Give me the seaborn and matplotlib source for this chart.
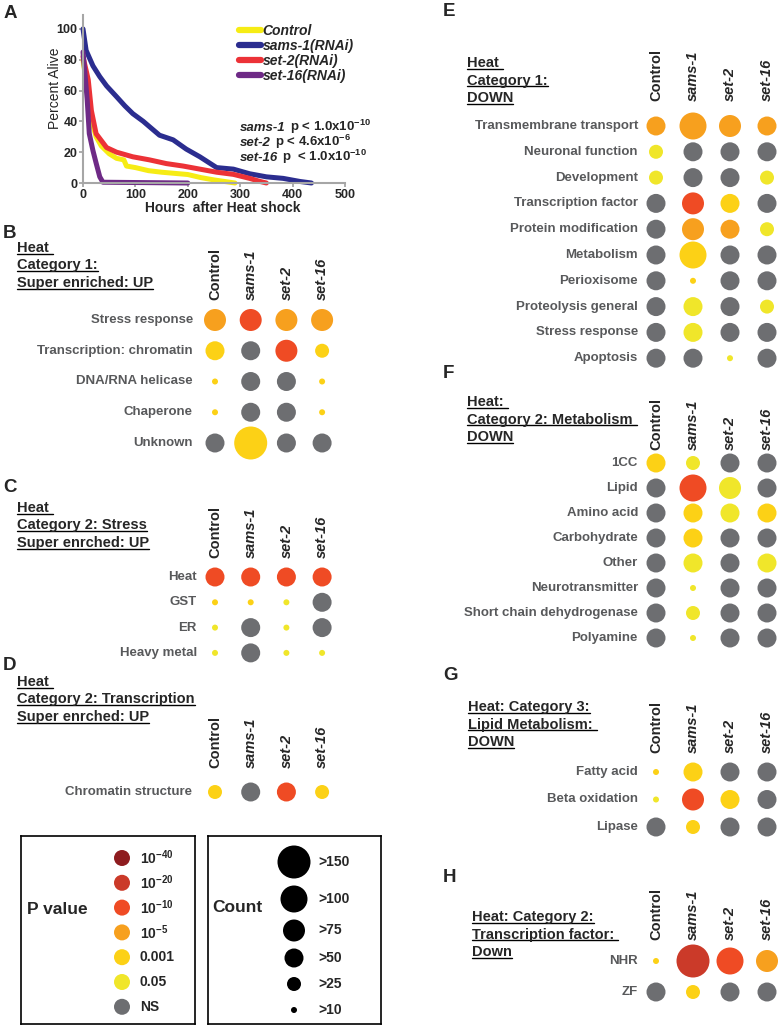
import numpy as np
import pandas as pd
import seaborn as sns
import matplotlib

matplotlib.use("Agg")
import matplotlib.pyplot as plt
import matplotlib.transforms as mtransforms
from matplotlib.lines import Line2D
from matplotlib.font_manager import FontProperties

# ---------------------------------------------------------------- data
# Panel A: survival after heat shock
CTRL_H = [0, 5, 10, 15, 20, 25, 35, 50, 64, 78, 83, 100, 125, 150, 200, 225, 250, 290]
CTRL_A = [80, 68, 55, 44, 36, 30, 24, 19, 16, 15, 11, 10, 8, 7, 5.5, 3.5, 2, 0]
SAMS_H = [0, 6, 19, 32, 45, 64, 80, 95, 115, 127, 146, 172, 197, 223, 255, 287, 318, 350, 382, 414, 436]
SAMS_A = [100, 86, 76, 69, 63, 56, 50, 45, 40, 36.5, 31, 28, 22, 17, 10, 9, 6, 4, 3, 1, 0]
SET2_H = [0, 10, 16, 25, 45, 64, 95, 127, 159, 191, 223, 255, 287, 318, 338, 350]
SET2_A = [82, 67, 47, 32, 23, 20, 17, 15, 12.6, 11, 9, 7, 5.6, 3, 1, 0]
SET16_H = [0, 4, 8, 12, 19, 25, 32, 38, 200]
SET16_A = [85, 70, 54, 32, 21, 13, 4, 0.5, 0]

STRAINS = ["Control", "sams-1(RNAi)", "set-2(RNAi)", "set-16(RNAi)"]
STRAIN_COLORS = ["#f6ec14", "#2b2d8f", "#ec3237", "#6e2a86"]
PVALS_A = [("sams-1", "p < 1.0x10$^{-10}$"),
           ("set-2", "p < 4.6x10$^{-6}$"),
           ("set-16", "p  < 1.0x10$^{-10}$")]

CONDITIONS = ["Control", "sams-1", "set-2", "set-16"]

# P value classes and dot-size (count) classes
P_LEVELS = ["1e-40", "1e-20", "1e-10", "1e-5", "0.001", "0.05", "NS"]
P_LABELS = ["10$^{-40}$", "10$^{-20}$", "10$^{-10}$", "10$^{-5}$", "0.001", "0.05", "NS"]
P_COLORS = ["#8e1c1f", "#cb3a29", "#ef4b24", "#f7a01e", "#fcd116", "#f0e62a", "#6d6e71"]
COUNT_LEVELS = [">150", ">100", ">75", ">50", ">25", ">10"]

B_TERMS = ["Stress response", "Transcription: chromatin", "DNA/RNA helicase", "Chaperone", "Unknown"]
B_P = [["1e-5", "1e-10", "1e-5", "1e-5"],
       ["0.001", "NS", "1e-10", "0.001"],
       ["0.001", "NS", "NS", "0.001"],
       ["0.001", "NS", "NS", "0.001"],
       ["NS", "0.001", "NS", "NS"]]
B_N = [[">75", ">75", ">75", ">75"],
       [">50", "-", ">75", ">25"],
       [">10", "-", "-", ">10"],
       [">10", "-", "-", ">10"],
       ["-", ">150", "-", "-"]]

C_TERMS = ["Heat", "GST", "ER", "Heavy metal"]
C_P = [["1e-10", "1e-10", "1e-10", "1e-10"],
       ["0.001", "0.001", "0.05", "NS"],
       ["0.05", "NS", "0.05", "NS"],
       ["0.05", "NS", "0.05", "0.05"]]
C_N = [[">50", ">50", ">50", ">50"],
       [">10", ">10", ">10", "-"],
       [">10", "-", ">10", "-"],
       [">10", "-", ">10", ">10"]]

D_TERMS = ["Chromatin structure"]
D_P = [["0.001", "NS", "1e-10", "0.001"]]
D_N = [[">25", "-", ">50", ">25"]]

E_TERMS = ["Transmembrane transport", "Neuronal function", "Development", "Transcription factor",
           "Protein modification", "Metabolism", "Perioxisome", "Proteolysis general",
           "Stress response", "Apoptosis"]
E_P = [["1e-5", "1e-5", "1e-5", "1e-5"],
       ["0.05", "NS", "NS", "NS"],
       ["0.05", "NS", "NS", "0.05"],
       ["NS", "1e-10", "0.001", "NS"],
       ["NS", "1e-5", "1e-5", "0.05"],
       ["NS", "0.001", "NS", "NS"],
       ["NS", "0.001", "NS", "NS"],
       ["NS", "0.05", "NS", "0.05"],
       ["NS", "0.05", "NS", "NS"],
       ["NS", "NS", "0.05", "NS"]]
E_N = [[">50", ">100", ">75", ">50"],
       [">25", "-", "-", "-"],
       [">25", "-", "-", ">25"],
       ["-", ">75", ">50", "-"],
       ["-", ">75", ">50", ">25"],
       ["-", ">100", "-", "-"],
       ["-", ">10", "-", "-"],
       ["-", ">50", "-", ">25"],
       ["-", ">50", "-", "-"],
       ["-", "-", ">10", "-"]]

F_TERMS = ["1CC", "Lipid", "Amino acid", "Carbohydrate", "Other", "Neurotransmitter",
           "Short chain dehydrogenase", "Polyamine"]
F_P = [["0.001", "0.05", "NS", "NS"],
       ["NS", "1e-10", "0.05", "NS"],
       ["NS", "0.001", "0.05", "0.001"],
       ["NS", "0.001", "NS", "NS"],
       ["NS", "0.05", "NS", "0.05"],
       ["NS", "0.05", "NS", "NS"],
       ["NS", "0.05", "NS", "NS"],
       ["NS", "0.05", "NS", "NS"]]
F_N = [[">50", ">25", "-", "-"],
       ["-", ">100", ">75", "-"],
       ["-", ">50", ">50", ">50"],
       ["-", ">50", "-", "-"],
       ["-", ">50", "-", ">50"],
       ["-", ">10", "-", "-"],
       ["-", ">25", "-", "-"],
       ["-", ">10", "-", "-"]]

G_TERMS = ["Fatty acid", "Beta oxidation", "Lipase"]
G_P = [["0.001", "0.001", "NS", "NS"],
       ["0.05", "1e-10", "0.001", "NS"],
       ["NS", "0.001", "NS", "NS"]]
G_N = [[">10", ">50", "-", "-"],
       [">10", ">75", ">50", "-"],
       ["-", ">25", "-", "-"]]

H_TERMS = ["NHR", "ZF"]
H_P = [["0.001", "1e-20", "1e-10", "1e-5"],
       ["NS", "0.001", "NS", "NS"]]
H_N = [[">10", ">150", ">100", ">75"],
       ["-", ">25", "-", "-"]]

# ---------------------------------------------------------------- style
W, H = 779, 1026
DIAM = {">150": 33, ">100": 27, ">75": 22, ">50": 19, ">25": 14, ">10": 6, "-": 19}
AREAS = {k: (v * 0.72) ** 2 for k, v in DIAM.items()}
PALETTE = dict(zip(P_LEVELS, P_COLORS))
LABEL_GREY = "#58595b"

sns.set_style("ticks")
plt.rcParams["font.family"] = ["Liberation Sans", "DejaVu Sans"]
plt.rcParams["mathtext.fontset"] = "custom"
plt.rcParams["mathtext.rm"] = "Liberation Sans:bold"
plt.rcParams["mathtext.bf"] = "Liberation Sans:bold"
plt.rcParams["mathtext.it"] = "Liberation Sans:italic:bold"
plt.rcParams["mathtext.default"] = "bf"

fig = plt.figure(figsize=(W / 100, H / 100), dpi=100)
renderer = fig.canvas.get_renderer()
title_texts = []


def fx(x):
    return x / W


def fy(y):
    return 1 - y / H


def add_title(x, y0, lines, step=17.5):
    for i, line in enumerate(lines):
        t = fig.text(fx(x), fy(y0 + i * step), line, ha="left", va="center",
                     fontsize=10.5, fontweight="bold")
        title_texts.append(t)


def dot_panel(terms, pvals, counts, x0, dx, y0, dy, label_off, head_off):
    n = len(terms)
    rows = []
    for i in range(n):
        for j in range(len(CONDITIONS)):
            rows.append({"cond": j, "term": i, "p": pvals[i][j], "n": counts[i][j]})
    df = pd.DataFrame(rows)

    left = x0 - dx / 2
    top = y0 - dy / 2
    ax = fig.add_axes([fx(left), fy(top + n * dy), 4 * dx / W, n * dy / H])
    sns.scatterplot(data=df, x="cond", y="term", hue="p", size="n",
                    palette=PALETTE, sizes=AREAS, legend=False,
                    linewidth=0, ax=ax)
    for c in ax.collections:
        c.set_clip_on(False)
    ax.set_xlim(-0.5, 3.5)
    ax.set_ylim(n - 0.5, -0.5)
    ax.set_axis_off()

    lab_tr = mtransforms.offset_copy(ax.transData, fig=fig, x=-label_off, y=0, units="dots")
    for i, term in enumerate(terms):
        ax.text(0, i, term, transform=lab_tr, ha="right", va="center",
                fontsize=9.5, fontweight="bold", color=LABEL_GREY)
    head_tr = mtransforms.offset_copy(ax.transData, fig=fig, x=0, y=head_off, units="dots")
    for j, cond in enumerate(CONDITIONS):
        ax.text(j, 0, cond, transform=head_tr, rotation=90, ha="center", va="bottom",
                fontsize=10.5, fontweight="bold",
                style="normal" if j == 0 else "italic")
    return ax


# ---------------------------------------------------------------- panel A
frames = []
for name, hrs, alive in zip(STRAINS, [CTRL_H, SAMS_H, SET2_H, SET16_H],
                            [CTRL_A, SAMS_A, SET2_A, SET16_A]):
    frames.append(pd.DataFrame({"hours": hrs, "alive": alive, "strain": name}))
df_a = pd.concat(frames, ignore_index=True)

ax_a = fig.add_axes([fx(83), fy(183), 262 / W, 168 / H])
sns.lineplot(data=df_a, x="hours", y="alive", hue="strain", hue_order=STRAINS,
             palette=STRAIN_COLORS, estimator=None, sort=False, linewidth=3.6,
             legend=False, ax=ax_a)
for ln in ax_a.lines:
    ln.set_clip_on(False)
    ln.set_solid_joinstyle("round")
ax_a.set_xlim(0, 500)
ax_a.set_ylim(0, 109)
ax_a.set_xticks(np.arange(0, 501, 100))
ax_a.set_yticks(np.arange(0, 101, 20))
sns.despine(ax=ax_a)
for s in ["left", "bottom"]:
    ax_a.spines[s].set_color("#a6a6a6")
    ax_a.spines[s].set_linewidth(1.5)
ax_a.tick_params(direction="out", length=3, width=1.3, color="#a6a6a6", pad=1,
                 labelsize=9)
for lab in ax_a.get_xticklabels() + ax_a.get_yticklabels():
    lab.set_fontweight("bold")
ax_a.set_xlabel("")
ax_a.set_ylabel("Percent Alive", fontsize=10)
ax_a.yaxis.set_label_coords(-21 / 262, 0.565)
fig.text(fx(223), fy(208), "Hours  after Heat shock", ha="center", va="center",
         fontsize=10, fontweight="bold")

handles = [Line2D([], [], color=c, lw=4.5, label=l) for l, c in zip(STRAINS, STRAIN_COLORS)]
ax_a.legend(handles=handles, loc="upper left", bbox_to_anchor=(fx(239), fy(24)),
            bbox_transform=fig.transFigure, frameon=False,
            prop=FontProperties(family="Liberation Sans", weight="bold", style="italic", size=10),
            handlelength=1.6, handletextpad=0.1, labelspacing=0.08,
            borderpad=0, borderaxespad=0)

for k, (gene, rest) in enumerate(PVALS_A):
    base = 131 + k * 15
    t1 = fig.text(fx(240), fy(base), gene, ha="left", va="baseline", fontsize=9.5,
                  fontweight="bold", style="italic")
    x1 = t1.get_window_extent(renderer).x1
    fig.text((x1 + 4) / W, fy(base), rest, ha="left", va="baseline", fontsize=9.5,
             fontweight="bold")

# ---------------------------------------------------------------- dot panels
dot_panel(B_TERMS, B_P, B_N, 215, 35.7, 320, 30.75, 22, 20)
dot_panel(C_TERMS, C_P, C_N, 215, 35.7, 577, 25.3, 18, 19)
dot_panel(D_TERMS, D_P, D_N, 215, 35.7, 792, 25, 23, 24)
dot_panel(E_TERMS, E_P, E_N, 656, 37, 126, 25.8, 18, 25)
dot_panel(F_TERMS, F_P, F_N, 656, 37, 463, 25, 18, 13)
dot_panel(G_TERMS, G_P, G_N, 656, 37, 772, 27.5, 18, 19)
dot_panel(H_TERMS, H_P, H_N, 656, 37, 961, 31, 18, 21)

add_title(17, 248, ["Heat ", "Category 1:", "Super enriched: UP"])
add_title(17, 508, ["Heat ", "Category 2: Stress", "Super enrched: UP"])
add_title(17, 682, ["Heat ", "Category 2: Transcription", "Super enrched: UP"])
add_title(467, 63, ["Heat ", "Category 1:", "DOWN"])
add_title(467, 402, ["Heat: ", "Category 2: Metabolism ", "DOWN"])
add_title(468, 707, ["Heat: Category 3:", "Lipid Metabolism: ", "DOWN"])
add_title(472, 917, ["Heat: Category 2:", "Transcription factor: ", "Down"])

for letter, x, y in [("A", 4, 13), ("B", 3, 233), ("C", 3, 488), ("D", 3, 665),
                     ("E", 443, 12), ("F", 443, 373), ("G", 443, 675), ("H", 443, 877)]:
    fig.text(fx(x), fy(y), letter, ha="left", va="center", fontsize=13.5, fontweight="bold")

# ---------------------------------------------------------------- legends
ax_p = fig.add_axes([fx(21), fy(1024), 174 / W, 188 / H])
ax_p.set_xlim(21, 195)
ax_p.set_ylim(1024, 836)
p_y = 858 + 24.8 * np.arange(len(P_LEVELS))
df_p = pd.DataFrame({"x": 122, "y": p_y, "p": P_LEVELS})
sns.scatterplot(data=df_p, x="x", y="y", hue="p", palette=PALETTE, s=(16 * 0.72) ** 2,
                linewidth=0, legend=False, ax=ax_p)
for yy, lab in zip(p_y, P_LABELS):
    ax_p.text(140, yy, lab, ha="left", va="center", fontsize=10, fontweight="bold")
ax_p.text(27, 910, "P value", ha="left", va="center", fontsize=12.5, fontweight="bold")

ax_c = fig.add_axes([fx(208), fy(1024), 173 / W, 188 / H])
ax_c.set_xlim(208, 381)
ax_c.set_ylim(1024, 836)
d = [DIAM[k] for k in COUNT_LEVELS]
c_y = [862.0]
for a, b in zip(d[:-1], d[1:]):
    c_y.append(c_y[-1] + max(26, (a + b) / 2 + 7))
df_c = pd.DataFrame({"x": 294, "y": c_y, "n": COUNT_LEVELS})
sns.scatterplot(data=df_c, x="x", y="y", size="n", sizes=AREAS, color="black",
                linewidth=0, legend=False, ax=ax_c)
for yy, lab in zip(c_y, COUNT_LEVELS):
    ax_c.text(318, yy, lab, ha="left", va="center", fontsize=10, fontweight="bold")
ax_c.text(212, 908, "Count", ha="left", va="center", fontsize=12.5, fontweight="bold")

for ax in (ax_p, ax_c):
    ax.set_xticks([])
    ax.set_yticks([])
    ax.set_xlabel("")
    ax.set_ylabel("")
    for s in ax.spines.values():
        s.set_visible(True)
        s.set_color("black")
        s.set_linewidth(1.2)

# underline the panel titles
fig.canvas.draw()
for t in title_texts:
    bb = t.get_window_extent(renderer)
    y = (bb.y0 + 1.5) / H
    fig.add_artist(Line2D([bb.x0 / W, bb.x1 / W], [y, y], transform=fig.transFigure,
                          color="black", lw=1.0))

fig.savefig("out.png", dpi=100)
plt.close()
